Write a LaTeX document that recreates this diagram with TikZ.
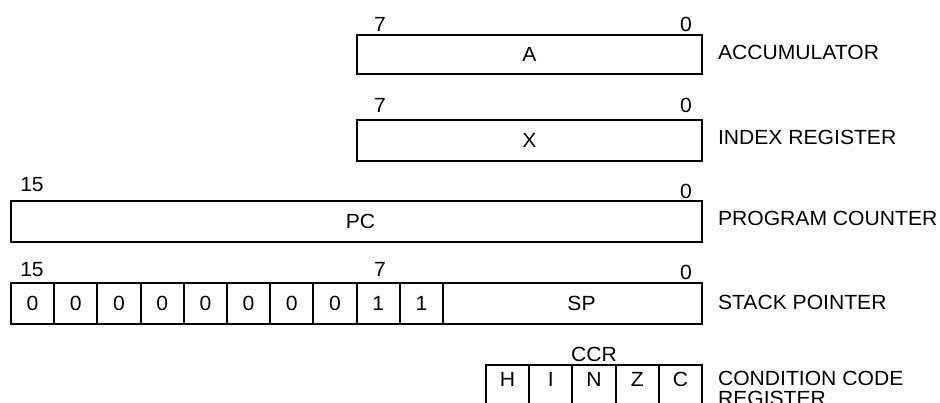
\documentclass[tikz,border=0pt]{standalone}
\usepackage{fontspec}
\setmainfont[FakeStretch=1.03]{Liberation Sans}
\begin{document}
\begin{tikzpicture}[x=1pt,y=-1pt,
  every node/.style={inner sep=0pt, outer sep=0pt, font=\fontsize{20.5}{20}\selectfont},
  regbox/.style={draw, line width=2pt, rectangle},
  cell/.style={regbox, minimum width=43.2pt, minimum height=41pt},
  ccell/.style={regbox, minimum width=43.2pt, minimum height=45pt, anchor=north, text height=15pt, text depth=16.4pt},
  bitno/.style={anchor=base},
  side/.style={anchor=base west, align=left}]
\useasboundingbox (0,0) rectangle (940,402);
% Accumulator
\node[regbox, minimum width=345.6pt, minimum height=39pt] (A) at (529.4,54.5) {A};
\node[bitno] (a7) at (380,31) {7};
\node[bitno] (a0) at (686,31) {0};
\node[side] (accl) at (718,59.5) {ACCUMULATOR};
% Index register
\node[regbox, minimum width=345.6pt, minimum height=41pt] (X) at (529.4,140.5) {X};
\node[bitno] (x7) at (380,112.5) {7};
\node[bitno] (x0) at (686,112.5) {0};
\node[side] (xl) at (718,144.5) {INDEX REGISTER};
% Program counter
\node[regbox, minimum width=691pt, minimum height=41pt] (PC) at (356.5,221.5) {\hspace*{8pt}PC};
\node[bitno] (pc15) at (32,191) {15};
\node[bitno] (pc0) at (686,198.5) {0};
\node[side] (pcl) at (718,225.5) {PROGRAM COUNTER};
% Stack pointer
\foreach \v [count=\i from 0] in {0,0,0,0,0,0,0,0,1,1} {
  \node[cell] (s\i) at ({11+21.6+43.2*\i},303.5) {\v};
}
\node[regbox, minimum width=259pt, minimum height=41pt] (SP) at (572.5,303.5) {\hspace*{18pt}SP};
\node[bitno] (sp15) at (32,276.5) {15};
\node[bitno] (sp7) at (380,276.5) {7};
\node[bitno] (sp0) at (686,279.5) {0};
\node[side] (spl) at (718,309) {STACK POINTER};
% Condition code register
\foreach \v [count=\i from 0] in {H,I,N,Z,C} {
  \node[ccell] (c\i) at ({486+21.6+43.2*\i},365) {\v};
}
\node[bitno] (ccr) at (594,361.5) {CCR};
\node[side] (ccrl) at (718,405) {CONDITION CODE\\REGISTER};
\end{tikzpicture}
\end{document}
